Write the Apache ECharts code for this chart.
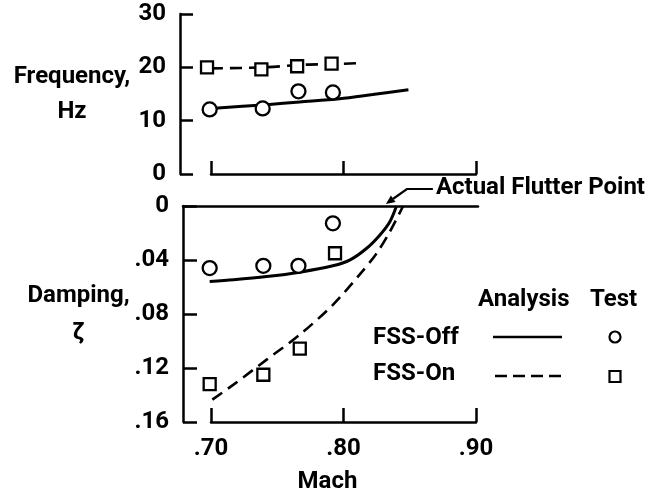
<!DOCTYPE html>
<html><head><meta charset="utf-8">
<script src="https://cdn.jsdelivr.net/npm/echarts@6/dist/echarts.min.js"></script>
<style>html,body{margin:0;padding:0;background:#fff}#c{width:654px;height:491px}</style>
</head><body><div id="c"></div><script>
const FONT = "Roboto, 'Liberation Sans', sans-serif";
const FW = 'bold';
const FS = 24;

// Axis ranges / ticks
const machTicks = [0.70, 0.80, 0.90];
const freqTicks = [0, 10, 20, 30];
const dampTicks = [0, 0.04, 0.08, 0.12, 0.16];

// Frequency panel
const freqAnaOffMach = [0.700, 0.742, 0.767, 0.797, 0.822, 0.849];
const freqAnaOff     = [12.3, 13.0, 13.5, 14.1, 14.9, 15.8];
const freqAnaOnMach  = [0.700, 0.740, 0.770, 0.790, 0.814];
const freqAnaOn      = [19.8, 20.0, 20.5, 20.6, 20.8];
const freqTestOffMach = [0.699, 0.739, 0.766, 0.792];
const freqTestOff     = [12.1, 12.3, 15.5, 15.3];
const freqTestOnMach  = [0.697, 0.738, 0.765, 0.791];
const freqTestOn      = [20.0, 19.6, 20.2, 20.7];

// Damping panel
const dampAnaOffMach = [0.699, 0.717, 0.742, 0.767, 0.792, 0.805, 0.8175, 0.8275, 0.835, 0.840];
const dampAnaOff     = [0.056, 0.0547, 0.0523, 0.049, 0.0443, 0.0399, 0.0313, 0.0214, 0.0116, 0.0];
const dampAnaOnMach  = [0.701, 0.717, 0.742, 0.767, 0.792, 0.812, 0.825, 0.835, 0.845];
const dampAnaOn      = [0.1434, 0.1323, 0.1138, 0.0953, 0.0732, 0.051, 0.035, 0.019, 0.0];
const dampTestOffMach = [0.699, 0.7395, 0.766, 0.792];
const dampTestOff     = [0.046, 0.0443, 0.0443, 0.0128];
const dampTestOnMach  = [0.699, 0.7395, 0.767, 0.7936];
const dampTestOn      = [0.132, 0.125, 0.1057, 0.035];

const flutterPoint = [0.832, 0.0];
const texts = {
  freqName: 'Frequency,\nHz', dampName: 'Damping,\nζ', machName: 'Mach',
  flutter: 'Actual Flutter Point', analysis: 'Analysis', test: 'Test',
  off: 'FSS-Off', on: 'FSS-On'
};

const zip = (a, b) => a.map((x, i) => [x, b[i]]);
const dotFmt = v => v === 0 ? '0' : '.' + v.toFixed(2).split('.')[1];

const axLine = { show: true, onZero: false, lineStyle: { color: '#000', width: 2.5 } };
const tick = (len) => ({ show: true, inside: true, length: len, lineStyle: { color: '#000', width: 2.5 } });
const lbl = (extra) => Object.assign({ color: '#000', fontFamily: FONT, fontSize: FS, fontWeight: FW }, extra);

const chart = echarts.init(document.getElementById('c'), null, { renderer: 'canvas' });

const lineS = (x, y, mach, vals, dashed) => ({
  type: 'line', xAxisIndex: x, yAxisIndex: y, data: zip(mach, vals), clip: false,
  smooth: 0.3, showSymbol: false, symbol: 'none', z: 2,
  lineStyle: { color: '#000', width: dashed ? 2.6 : 3, type: dashed ? [12, 7] : 'solid' }
});
const scatS = (x, y, mach, vals, sym) => ({
  type: 'scatter', xAxisIndex: x, yAxisIndex: y, data: zip(mach, vals), z: 5, clip: false,
  symbol: sym, symbolSize: sym === 'circle' ? 14 : 12,
  itemStyle: { color: '#fff', borderColor: '#000', borderWidth: 2.3, opacity: 1 }
});

const gridBase = { outerBoundsMode: 'none', containLabel: false };
chart.setOption({
  backgroundColor: '#fff',
  animation: false,
  textStyle: { fontFamily: FONT },
  grid: [
    Object.assign({ left: 211, right: 178, top: 14, bottom: 317 }, gridBase),
    Object.assign({ left: 211, right: 178, top: 206, bottom: 69 }, gridBase),
    Object.assign({ left: 183, right: 176, top: 206, height: 20 }, gridBase)
  ],
  xAxis: [
    { gridIndex: 0, type: 'value', min: machTicks[0], max: machTicks[2], interval: 0.1,
      axisLine: axLine, axisTick: tick(13), axisLabel: { show: false }, splitLine: { show: false } },
    { gridIndex: 1, type: 'value', min: machTicks[0], max: machTicks[2], interval: 0.1,
      axisLine: axLine, axisTick: tick(14), splitLine: { show: false },
      axisLabel: lbl({ margin: 15, formatter: dotFmt }),
      name: texts.machName, nameLocation: 'middle', nameGap: 60,
      nameTextStyle: lbl({ align: 'center', verticalAlign: 'middle', padding: [0, 32, 0, 0] }) },
    { gridIndex: 2, type: 'value', position: 'top', min: 0, max: 1,
      axisLine: axLine, axisTick: { show: false }, axisLabel: { show: false }, splitLine: { show: false } }
  ],
  yAxis: [
    { gridIndex: 0, type: 'value', min: freqTicks[0], max: freqTicks[3], interval: 10, offset: 31,
      axisLine: axLine, axisTick: tick(13), splitLine: { show: false },
      axisLabel: lbl({ margin: 14 }),
      name: texts.freqName, nameLocation: 'middle', nameRotate: 0, nameGap: 108,
      nameTextStyle: lbl({ align: 'center', verticalAlign: 'middle', lineHeight: 35, padding: [0, 0, 14, 0] }) },
    { gridIndex: 1, type: 'value', inverse: true, min: dampTicks[0], max: dampTicks[4], interval: 0.04, offset: 28,
      axisLine: axLine, axisTick: tick(14), splitLine: { show: false },
      axisLabel: lbl({ margin: 14, formatter: dotFmt }),
      name: texts.dampName, nameLocation: 'middle', nameRotate: 0, nameGap: 103,
      nameTextStyle: lbl({ align: 'center', verticalAlign: 'middle', lineHeight: 37, padding: [11, 0, 0, 0] }) },
    { gridIndex: 2, type: 'value', show: false, min: 0, max: 1 }
  ],
  series: [
    lineS(0, 0, freqAnaOffMach, freqAnaOff, false),
    lineS(0, 0, freqAnaOnMach, freqAnaOn, true),
    scatS(0, 0, freqTestOffMach, freqTestOff, 'circle'),
    scatS(0, 0, freqTestOnMach, freqTestOn, 'rect'),
    lineS(1, 1, dampAnaOffMach, dampAnaOff, false),
    lineS(1, 1, dampAnaOnMach, dampAnaOn, true),
    scatS(1, 1, dampTestOffMach, dampTestOff, 'circle'),
    scatS(1, 1, dampTestOnMach, dampTestOn, 'rect')
  ]
});

// Annotation arrow + legend table
const tip = chart.convertToPixel({ xAxisIndex: 1, yAxisIndex: 1 }, flutterPoint);
const tx = tip[0], ty = tip[1] - 2;
const elbow = [tx + 21, ty - 15], start = [tx + 47, ty - 15];
const ang = Math.atan2(ty - elbow[1], tx - elbow[0]);
const ah = 9, aw = 4;
const bx = tx - ah * Math.cos(ang), by = ty - ah * Math.sin(ang);
const txtStyle = (s, x, y) => ({ type: 'text', x: x, y: y,
  style: { text: s, fill: '#000', font: FW + ' ' + FS + 'px ' + FONT, textVerticalAlign: 'middle' } });
chart.setOption({
  graphic: [
    { type: 'polyline', shape: { points: [start, elbow, [bx, by]] }, style: { stroke: '#000', lineWidth: 2.2, fill: null } },
    { type: 'polygon', shape: { points: [[tx, ty],
        [bx + aw * Math.sin(ang), by - aw * Math.cos(ang)],
        [bx - aw * Math.sin(ang), by + aw * Math.cos(ang)]] }, style: { fill: '#000' } },
    txtStyle(texts.flutter, start[0] + 3, ty - 16),
    txtStyle(texts.analysis, 478, 300),
    txtStyle(texts.test, 590, 300),
    txtStyle(texts.off, 373, 338),
    txtStyle(texts.on, 373, 374),
    { type: 'line', shape: { x1: 493, y1: 337, x2: 562, y2: 337 }, style: { stroke: '#000', lineWidth: 2.6 } },
    { type: 'line', shape: { x1: 495, y1: 376, x2: 562, y2: 376 }, style: { stroke: '#000', lineWidth: 2.6, lineDash: [12, 6] } },
    { type: 'circle', shape: { cx: 615, cy: 337, r: 5.5 }, style: { fill: '#fff', stroke: '#000', lineWidth: 2.2 } },
    { type: 'rect', shape: { x: 609.5, y: 371, width: 11, height: 11 }, style: { fill: '#fff', stroke: '#000', lineWidth: 2.2 } }
  ]
});
</script></body></html>
